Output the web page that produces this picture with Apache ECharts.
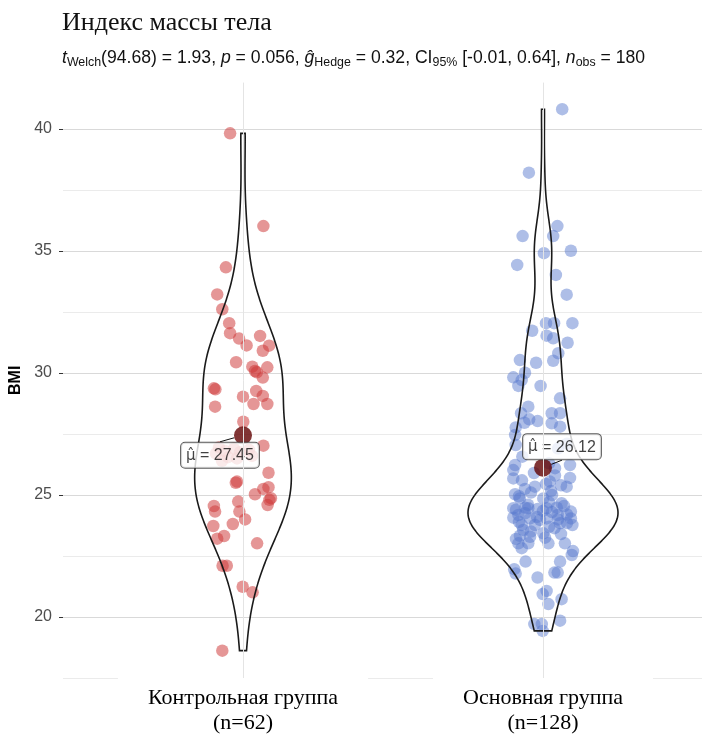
<!DOCTYPE html>
<html>
<head>
<meta charset="utf-8">
<script src="https://cdn.jsdelivr.net/npm/echarts@6/dist/echarts.min.js"></script>
<style>
  html, body { margin: 0; padding: 0; background: #ffffff; }
  #chart { width: 702px; height: 740px; }
</style>
</head>
<body>
<div id="chart"></div>
<script>
// Groups and their BMI samples
const groups = ['Контрольная группа', 'Основная группа'];

const controlBMI = [39.82, 36.02, 34.33, 33.22, 32.61, 32.04, 31.63, 31.41, 31.52, 31.13,
  31.12, 30.91, 30.44, 30.26, 30.23, 30.03, 30.08, 29.81, 29.37, 29.33,
  29.26, 29.03, 29.06, 28.73, 28.73, 28.62, 28.00, 27.02,
  26.95, 26.90, 26.85, 26.80, 26.75, 26.70, 26.60, 26.55, 26.50, 26.40,
  25.91, 25.50, 25.55, 25.03, 25.25, 25.32, 24.87, 24.80, 24.59, 24.55,
  24.32, 24.73, 24.32, 24.00, 23.81, 23.73, 23.32, 23.21, 23.02, 22.10,
  22.10, 21.24, 21.01, 18.62];
const controlJitter = [-0.043, 0.068, -0.057, -0.086, -0.069, -0.046, -0.043, -0.013, 0.057, 0.012,
  0.087, 0.066, -0.023, 0.031, 0.081, 0.046, 0.040, 0.066, -0.097, -0.092,
  0.044, 0.000, 0.066, 0.035, 0.081, -0.093, 0.001, 0.068,
  -0.08, -0.03, 0.02, -0.06, -0.01, -0.09, 0.03, -0.05, -0.02, -0.07,
  0.085, -0.024, -0.020, 0.040, 0.068, 0.085, 0.093, 0.088, 0.082, -0.097,
  -0.093, -0.016, -0.012, 0.007, -0.034, -0.099, -0.063, -0.086, 0.047, -0.068,
  -0.054, -0.001, 0.032, -0.069];

const mainBMI = [40.81, 38.21, 36.02, 35.61, 35.61, 34.91, 35.01, 34.43, 34.02, 33.21,
  32.04, 32.04, 32.04, 31.73, 31.53, 31.42, 31.24, 30.81, 30.53, 30.42,
  30.50, 30.01, 29.82, 29.71, 29.47, 29.47,
  28.96, 28.62, 28.35, 28.35, 28.35, 28.10, 28.03, 27.96, 27.94, 27.77,
  27.80, 27.46, 27.05, 26.57, 26.23, 26.23,
  26.02, 25.68, 25.34, 25.55, 25.25, 25.16, 25.34, 25.03, 24.86, 24.86,
  24.66, 24.46, 24.48, 24.46, 24.43, 24.46, 24.48, 24.32, 24.18, 24.18,
  24.07, 24.04, 23.98, 24.04, 24.04, 23.84, 23.77, 23.77, 23.77, 23.57,
  23.64, 23.33, 23.29, 23.43, 23.25, 23.02, 23.02, 23.02, 23.02, 22.82, 22.70,
  22.54, 22.27, 22.27, 21.96, 21.78, 21.82, 21.82, 21.62, 21.07, 20.94,
  20.53, 20.73, 19.85, 19.71, 19.71, 19.43,
  26.90, 27.10, 26.30, 26.10, 25.90, 25.80, 25.70, 25.60, 25.45, 25.40,
  25.10, 25.00, 24.95, 24.70, 24.60, 24.55, 24.40, 24.35, 24.30, 24.25,
  24.20, 24.10, 24.00, 23.90, 23.85, 23.70, 23.50, 23.40, 23.20];
const mainJitter = [0.064, -0.047, 0.048, -0.068, 0.034, 0.003, 0.093, -0.086, 0.043, 0.079,
  0.010, 0.037, 0.098, -0.036, 0.012, 0.034, 0.082, 0.051, -0.077, -0.023,
  0.034, -0.060, -0.099, -0.071, -0.008, -0.082,
  0.057, -0.049, -0.073, 0.029, 0.057, -0.046, -0.018, -0.062, 0.029, -0.091,
  0.057, -0.093, -0.091, -0.069, -0.093, 0.090,
  -0.099, -0.099, -0.027, 0.023, -0.060, 0.027, 0.079, -0.093, -0.077, 0.001,
  0.062, -0.099, -0.060, -0.049, -0.018, 0.012, 0.046, 0.093, -0.082, 0.049,
  -0.099, -0.043, -0.010, 0.012, 0.093, 0.057, 0.098, -0.071, -0.027, -0.066,
  0.038, -0.077, -0.043, 0.001, 0.007, -0.082, -0.049, 0.018, 0.073, -0.071, 0.100,
  0.096, -0.058, 0.057, -0.096, -0.091, 0.038, 0.049, -0.018, 0.012, -0.001,
  0.018, 0.062, 0.057, -0.029, -0.004, -0.001,
  0.05, 0.08, 0.02, 0.04, -0.03, 0.04, 0.09, -0.07, 0.01, 0.06,
  -0.04, 0.03, -0.08, 0.02, -0.05, 0.07, -0.09, 0.00, 0.03, -0.06,
  0.08, -0.02, 0.05, -0.08, 0.08, 0.02, -0.04, 0.06, -0.09];

const yTickValues = [20, 25, 30, 35, 40];
const titleText = 'Индекс массы тела';
const statsText = '{i|t}{s|Welch}(94.68) = 1.93, {i|p} = 0.056, {i|ĝ}{s|Hedge} = 0.32, CI{s|95%} [-0.01, 0.64], {i|n}{s|obs} = 180';

const samples = [controlBMI, mainBMI];
const jitters = [controlJitter, mainJitter];
const pointColors = ['rgba(205, 55, 55, 0.66)', 'rgba(85, 120, 205, 0.6)'];

function mean(a) { return a.reduce((s, v) => s + v, 0) / a.length; }

function quantile(sorted, p) {
  const h = (sorted.length - 1) * p;
  const lo = Math.floor(h);
  const hi = Math.min(lo + 1, sorted.length - 1);
  return sorted[lo] + (h - lo) * (sorted[hi] - sorted[lo]);
}

// Gaussian kernel density, Silverman bandwidth, trimmed to the sample range
function density(values) {
  const n = values.length;
  const s = values.slice().sort((a, b) => a - b);
  const m = mean(values);
  const sd = Math.sqrt(values.reduce((acc, v) => acc + (v - m) * (v - m), 0) / (n - 1));
  const iqr = quantile(s, 0.75) - quantile(s, 0.25);
  const bw = 0.9 * Math.min(sd, iqr / 1.34) * Math.pow(n, -0.2);
  const lo = s[0], hi = s[n - 1], steps = 511;
  const ys = [], ds = [];
  for (let k = 0; k <= steps; k++) {
    const y = lo + (hi - lo) * k / steps;
    let d = 0;
    for (const v of values) { const z = (y - v) / bw; d += Math.exp(-0.5 * z * z); }
    ys.push(y);
    ds.push(d / (n * bw * Math.sqrt(2 * Math.PI)));
  }
  return { ys, ds };
}

const densities = samples.map(density);
const maxDensity = Math.max(...densities.map(d => Math.max(...d.ds)));
const violinHalf = 0.25;
const means = samples.map(mean);

const Y_MIN = 17.5, Y_MAX = 41.9;

const pointSeries = samples.map((vals, g) => ({
  type: 'scatter',
  name: groups[g],
  z: 2,
  symbolSize: 12.5,
  itemStyle: { color: pointColors[g] },
  silent: true,
  data: vals.map((v, i) => [g + 1 + jitters[g][i], v])
}));

const chart = echarts.init(document.getElementById('chart'), null, { renderer: 'canvas', width: 702, height: 740 });

chart.setOption({
  animation: false,
  backgroundColor: '#ffffff',
  title: {
    text: titleText,
    subtext: statsText,
    left: 62,
    top: 9,
    padding: 0,
    itemGap: 10,
    textStyle: { fontFamily: 'Liberation Serif', fontSize: 26, fontWeight: 'normal', color: '#111', lineHeight: 28 },
    subtextStyle: {
      fontFamily: 'Liberation Sans', fontSize: 17.6, color: '#111', lineHeight: 22,
      rich: {
        i: { fontFamily: 'Liberation Sans', fontSize: 17.6, fontStyle: 'italic', color: '#111', lineHeight: 22 },
        s: { fontFamily: 'Liberation Sans', fontSize: 12.4, color: '#111', lineHeight: 12, verticalAlign: 'bottom' }
      }
    }
  },
  grid: { left: 63, width: 660, top: 82.6, height: 595.4, containLabel: false, outerBoundsMode: 'none' },
  xAxis: {
    type: 'value',
    min: 0.4,
    max: 2.6,
    z: 3,
    axisLine: { show: false },
    axisTick: { show: false },
    splitLine: { show: false },
    axisLabel: {
      customValues: [1, 2],
      margin: -2,
      formatter: v => {
        const g = Math.round(v) - 1;
        return groups[g] + '\n(n=' + samples[g].length + ')';
      },
      fontFamily: 'Liberation Serif',
      fontSize: 22,
      lineHeight: 25,
      color: '#000',
      backgroundColor: '#ffffff',
      padding: [10, 30, 2, 30]
    }
  },
  yAxis: [
    {
      // gridlines every 2.5 units
      type: 'value',
      min: Y_MIN,
      max: Y_MAX,
      interval: 2.5,
      axisLine: { show: false },
      axisTick: { show: false },
      axisLabel: { show: false },
      splitLine: {
        show: true,
        showMaxLine: false,
        lineStyle: {
          color: ['#ebebeb', '#d9d9d9', '#ebebeb', '#d9d9d9', '#ebebeb', '#d9d9d9',
                  '#ebebeb', '#d9d9d9', '#ebebeb', '#d9d9d9', 'rgba(0,0,0,0)'],
          width: 1
        }
      }
    },
    {
      // labelled ticks
      type: 'value',
      position: 'left',
      min: Y_MIN,
      max: Y_MAX,
      name: 'BMI',
      nameLocation: 'middle',
      nameGap: 36,
      nameTextStyle: { fontFamily: 'Liberation Sans', fontSize: 16, fontWeight: 'bold', color: '#000' },
      axisLine: { show: false },
      axisTick: { show: true, customValues: yTickValues, length: 4, lineStyle: { color: '#333', width: 1 } },
      axisLabel: {
        customValues: yTickValues,
        margin: 11,
        fontFamily: 'Liberation Sans',
        fontSize: 16,
        color: '#4d4d4d'
      },
      splitLine: { show: false }
    }
  ],
  series: [
    {
      // vertical guides at each group position
      type: 'line',
      data: [],
      z: 1,
      silent: true,
      markLine: {
        silent: true,
        symbol: 'none',
        label: { show: false },
        lineStyle: { color: '#e4e4e4', width: 1, type: 'solid' },
        data: groups.map((_, g) => ({ xAxis: g + 1 }))
      }
    },
    ...pointSeries,
    {
      type: 'custom',
      name: 'violin',
      z: 3,
      silent: true,
      data: groups.map((_, g) => [g + 1]),
      encode: { x: 0 },
      renderItem: (params, api) => {
        const g = params.dataIndex;
        const d = densities[g];
        const right = [], left = [];
        for (let k = 0; k < d.ys.length; k++) {
          const w = violinHalf * d.ds[k] / maxDensity;
          right.push(api.coord([g + 1 + w, d.ys[k]]));
          left.push(api.coord([g + 1 - w, d.ys[k]]));
        }
        const pts = right.concat(left.reverse());
        return {
          type: 'polygon',
          shape: { points: pts },
          style: { fill: 'rgba(255,255,255,0)', stroke: '#1a1a1a', lineWidth: 1.6 }
        };
      }
    },
    {
      type: 'scatter',
      name: 'mean',
      z: 4,
      symbolSize: 18,
      itemStyle: { color: '#620303' },
      silent: true,
      data: means.map((m, g) => [g + 1, m]),
      label: {
        show: true,
        position: 'inside',
        formatter: p => '{m|μ\u0302} = ' + p.value[1].toFixed(2),
        fontFamily: 'Liberation Sans',
        fontSize: 16,
        color: '#111',
        backgroundColor: '#ffffff',
        borderColor: '#333',
        borderWidth: 1,
        borderRadius: 4,
        padding: [5, 5, 4, 5],
        rich: {
          m: { fontFamily: 'DejaVu Sans', fontSize: 15, color: '#111' }
        }
      },
      labelLayout: p => (p.dataIndex === 0 ? { dx: -23, dy: 20 } : { dx: 19, dy: -21 }),
      labelLine: { show: true, lineStyle: { color: '#111', width: 1 } }
    }
  ]
});
</script>
</body>
</html>
